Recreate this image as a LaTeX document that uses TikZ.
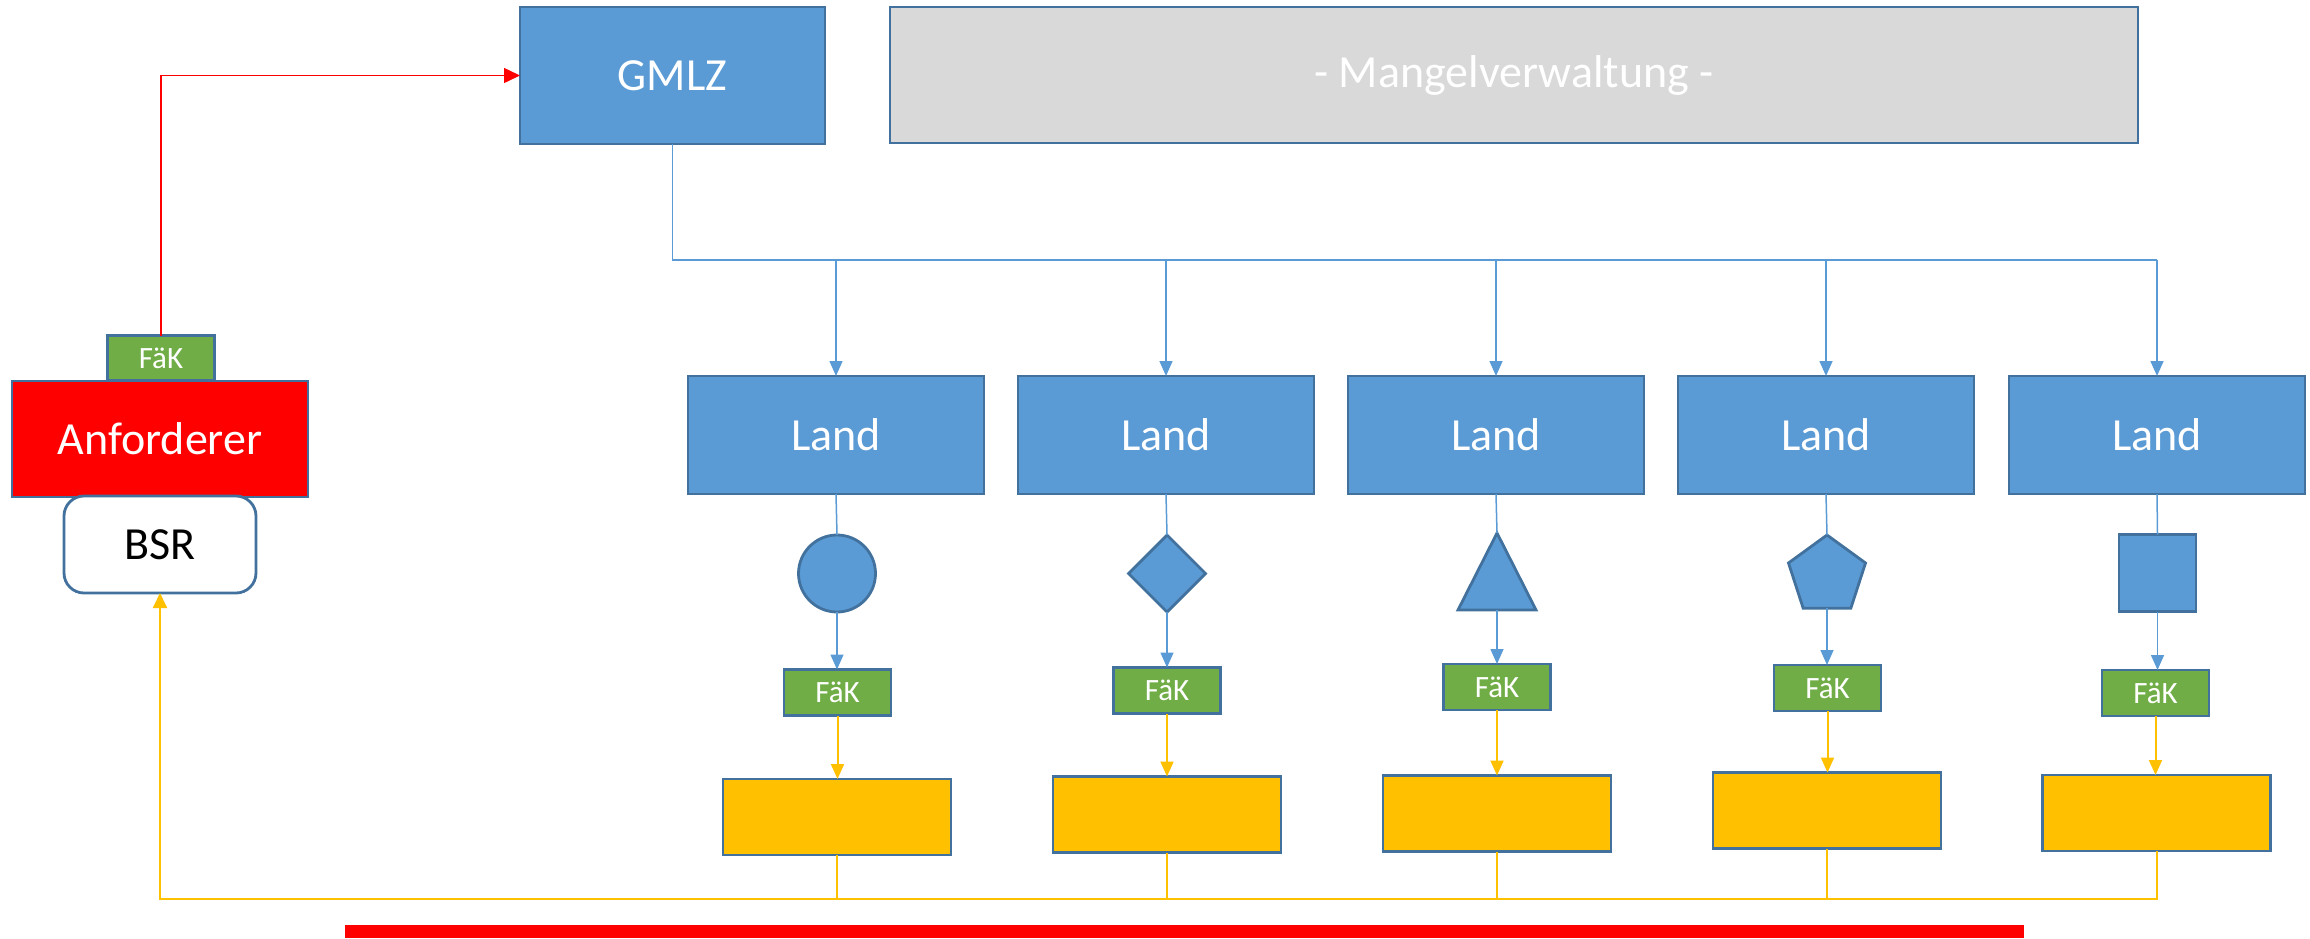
\documentclass[tikz,border=0pt]{standalone}
\usepackage{fontspec}
\setmainfont{Carlito}
\usetikzlibrary{shapes.geometric,arrows.meta}
\definecolor{cblue}{HTML}{5B9BD5}
\definecolor{cborder}{HTML}{41719C}
\definecolor{cgreen}{HTML}{70AD47}
\definecolor{cyellow}{HTML}{FFC000}
\definecolor{cgray}{HTML}{D9D9D9}
\begin{document}
\begin{tikzpicture}[x=1pt,y=-1pt,
 box/.style={draw=cborder,line width=2.8pt,inner sep=0pt,outer sep=0pt},
 bluebox/.style={box,fill=cblue,text=white,font=\fontsize{46}{55}\selectfont},
 fakbox/.style={box,fill=cgreen,text=white,minimum width=107pt,minimum height=46pt,font=\fontsize{31}{37}\selectfont},
 ybox/.style={box,fill=cyellow,minimum width=228pt,minimum height=76pt},
 land/.style={bluebox,minimum width=296pt,minimum height=118pt},
 shp/.style={box,fill=cblue},
 conn/.style={draw=cblue,line width=1.5pt},
 yconn/.style={draw=cyellow,line width=2pt},
 tipb/.style={-{Triangle[width=13pt,length=15pt]}},
]
\useasboundingbox (0,0) rectangle (2310,938);

% top row
\node[bluebox,minimum width=305pt,minimum height=137pt] (gmlz) at (672.5,75.5) {GMLZ};
\node[box,fill=cgray,text=white,minimum width=1248pt,minimum height=136pt,font=\fontsize{46}{55}\selectfont] (mv) at (1514,75) {- Mangelverwaltung -};

% left side
\node[fakbox,minimum height=45pt] (fak0) at (161,358) {FäK};
\node[box,fill=red,text=white,minimum width=296pt,minimum height=116pt,font=\fontsize{46}{55}\selectfont] (anf) at (160,439) {Anforderer};
\node[box,fill=white,text=black,rounded corners=20pt,minimum width=192pt,minimum height=97pt,font=\fontsize{46}{55}\selectfont] (bsr) at (160,544.5) {BSR};

% Land boxes
\node[land] (l1) at (836,435) {Land};
\node[land] (l2) at (1166,435) {Land};
\node[land] (l3) at (1496,435) {Land};
\node[land] (l4) at (1826,435) {Land};
\node[land] (l5) at (2157,435) {Land};

% shapes
\node[shp,circle,minimum size=77pt] (s1) at (837,573.5) {};
\node[shp,diamond,minimum width=77pt,minimum height=77pt] (s2) at (1167,573.5) {};
\coordinate (s3n) at (1497,533);
\coordinate (s3s) at (1497,610);
\draw[shp,line join=miter] (s3n) -- (1536,610) -- (1458,610) -- cycle;
\node[shp,regular polygon,regular polygon sides=5,minimum size=81pt] (s4) at (1827,575.5) {};
\node[shp,minimum size=77pt] (s5) at (2157.5,573) {};

% FaeK boxes
\node[fakbox] (f1) at (837.5,692.5) {FäK};
\node[fakbox] (f2) at (1167,690.5) {FäK};
\node[fakbox] (f3) at (1497,687) {FäK};
\node[fakbox] (f4) at (1827.5,688) {FäK};
\node[fakbox] (f5) at (2155.5,693) {FäK};

% yellow boxes
\node[ybox] (y1) at (837,817) {};
\node[ybox] (y2) at (1167,814.5) {};
\node[ybox] (y3) at (1497,813.5) {};
\node[ybox] (y4) at (1827,810.5) {};
\node[ybox] (y5) at (2156.5,813) {};

% red bar
\fill[red] (345,925) rectangle (2024,938);

% red connector
\draw[red,line width=1.5pt,-{Triangle[width=15pt,length=16pt]}] (fak0.north) |- (gmlz.west);

% blue distribution
\coordinate (bus) at (gmlz.south |- 0,260);
\draw[conn] (gmlz.south) -- (bus) -- (bus -| l5.north);
\foreach \i in {1,...,5}{
  \draw[conn,tipb] (bus -| l\i.north) -- (l\i.north);
}
\draw[conn] (l1.south) -- (s1.north);
\draw[conn] (l2.south) -- (s2.north);
\draw[conn] (l3.south) -- (s3n);
\draw[conn] (l4.south) -- (s4.corner 1);
\draw[conn] (l5.south) -- (s5.north);
\draw[conn,tipb] (s1.south) -- (s1.south |- f1.north);
\draw[conn,tipb] (s2.south) -- (s2.south |- f2.north);
\draw[conn,tipb] (s3s) -- (s3s |- f3.north);
\draw[conn,tipb] (s4.south) -- (s4.south |- f4.north);
\draw[conn,tipb] (s5.south) -- (s5.south |- f5.north);

% yellow connectors
\foreach \i in {1,...,5}{
  \draw[yconn,tipb] (f\i.south) -- (f\i.south |- y\i.north);
}
\coordinate (bl) at (bsr.south |- 0,899);
\foreach \i in {1,...,4}{
  \draw[yconn] (y\i.south) -- (y\i.south |- bl);
}
\draw[yconn,-{Triangle[width=14pt,length=15pt]}] (y5.south) |- (bl) -- (bsr.south);
\end{tikzpicture}
\end{document}
